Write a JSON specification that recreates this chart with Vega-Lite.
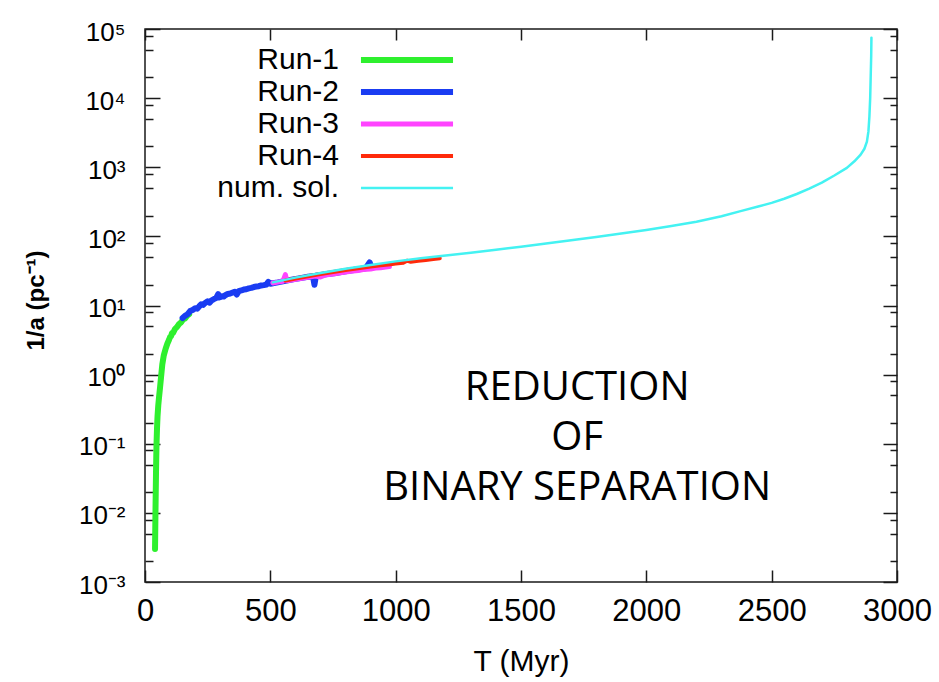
{
  "$schema": "https://vega.github.io/schema/vega-lite/v6.json",
  "width": 752,
  "height": 553,
  "autosize": "none",
  "padding": {"left": 145, "top": 29, "right": 42, "bottom": 100},
  "background": "white",
  "config": {
    "view": {"stroke": "#1a1a1a", "strokeWidth": 1.5},
    "font": "Liberation Sans",
    "axis": {"domain": false, "grid": false, "tickColor": "#1a1a1a", "tickWidth": 1.5, "labelColor": "black", "titleColor": "black", "labelFont": "Liberation Sans", "titleFont": "Liberation Sans", "titleFontWeight": "normal"}
  },
  "datasets": {
    "curves": [
      {"series": "Run-1", "T": 40, "inv_a": 0.003},
      {"series": "Run-1", "T": 41, "inv_a": 0.006},
      {"series": "Run-1", "T": 42, "inv_a": 0.012},
      {"series": "Run-1", "T": 43, "inv_a": 0.022},
      {"series": "Run-1", "T": 44, "inv_a": 0.04},
      {"series": "Run-1", "T": 45, "inv_a": 0.065},
      {"series": "Run-1", "T": 46, "inv_a": 0.1},
      {"series": "Run-1", "T": 48, "inv_a": 0.17},
      {"series": "Run-1", "T": 50, "inv_a": 0.25},
      {"series": "Run-1", "T": 53, "inv_a": 0.36},
      {"series": "Run-1", "T": 56, "inv_a": 0.47},
      {"series": "Run-1", "T": 60, "inv_a": 0.65},
      {"series": "Run-1", "T": 64, "inv_a": 0.92},
      {"series": "Run-1", "T": 69, "inv_a": 1.4},
      {"series": "Run-1", "T": 75, "inv_a": 1.9},
      {"series": "Run-1", "T": 82, "inv_a": 2.35},
      {"series": "Run-1", "T": 89, "inv_a": 2.8},
      {"series": "Run-1", "T": 96, "inv_a": 3.2},
      {"series": "Run-1", "T": 100, "inv_a": 3.5},
      {"series": "Run-1", "T": 104, "inv_a": 3.6},
      {"series": "Run-1", "T": 108, "inv_a": 4.0},
      {"series": "Run-1", "T": 112, "inv_a": 4.0},
      {"series": "Run-1", "T": 120, "inv_a": 4.6},
      {"series": "Run-1", "T": 128, "inv_a": 4.9},
      {"series": "Run-1", "T": 136, "inv_a": 5.4},
      {"series": "Run-1", "T": 144, "inv_a": 5.7},
      {"series": "Run-1", "T": 152, "inv_a": 6.3},
      {"series": "Run-1", "T": 160, "inv_a": 6.5},
      {"series": "Run-1", "T": 168, "inv_a": 7.1},
      {"series": "Run-1", "T": 176, "inv_a": 7.5},
      {"series": "Run-2", "T": 150, "inv_a": 6.6},
      {"series": "Run-2", "T": 160, "inv_a": 7.1},
      {"series": "Run-2", "T": 170, "inv_a": 7.5},
      {"series": "Run-2", "T": 180, "inv_a": 8.3},
      {"series": "Run-2", "T": 190, "inv_a": 8.6},
      {"series": "Run-2", "T": 200, "inv_a": 9.1},
      {"series": "Run-2", "T": 208, "inv_a": 9.0},
      {"series": "Run-2", "T": 216, "inv_a": 9.7},
      {"series": "Run-2", "T": 224, "inv_a": 10.4},
      {"series": "Run-2", "T": 232, "inv_a": 10.2},
      {"series": "Run-2", "T": 240, "inv_a": 10.9},
      {"series": "Run-2", "T": 250, "inv_a": 11.5},
      {"series": "Run-2", "T": 258, "inv_a": 11.0},
      {"series": "Run-2", "T": 266, "inv_a": 11.9},
      {"series": "Run-2", "T": 275, "inv_a": 12.4},
      {"series": "Run-2", "T": 284, "inv_a": 12.8},
      {"series": "Run-2", "T": 292, "inv_a": 14.6},
      {"series": "Run-2", "T": 298, "inv_a": 13.1},
      {"series": "Run-2", "T": 306, "inv_a": 13.6},
      {"series": "Run-2", "T": 314, "inv_a": 13.5},
      {"series": "Run-2", "T": 322, "inv_a": 14.2},
      {"series": "Run-2", "T": 330, "inv_a": 14.7},
      {"series": "Run-2", "T": 340, "inv_a": 14.9},
      {"series": "Run-2", "T": 350, "inv_a": 15.4},
      {"series": "Run-2", "T": 358, "inv_a": 15.8},
      {"series": "Run-2", "T": 366, "inv_a": 14.4},
      {"series": "Run-2", "T": 374, "inv_a": 16.1},
      {"series": "Run-2", "T": 384, "inv_a": 16.5},
      {"series": "Run-2", "T": 394, "inv_a": 17.0},
      {"series": "Run-2", "T": 404, "inv_a": 17.2},
      {"series": "Run-2", "T": 414, "inv_a": 17.7},
      {"series": "Run-2", "T": 424, "inv_a": 18.0},
      {"series": "Run-2", "T": 434, "inv_a": 18.5},
      {"series": "Run-2", "T": 444, "inv_a": 18.8},
      {"series": "Run-2", "T": 454, "inv_a": 19.0},
      {"series": "Run-2", "T": 464, "inv_a": 19.5},
      {"series": "Run-2", "T": 474, "inv_a": 19.7},
      {"series": "Run-2", "T": 484, "inv_a": 20.1},
      {"series": "Run-2", "T": 492, "inv_a": 21.9},
      {"series": "Run-2", "T": 500, "inv_a": 20.6},
      {"series": "Run-2", "T": 510, "inv_a": 21.0},
      {"series": "Run-2", "T": 530, "inv_a": 21.6},
      {"series": "Run-2", "T": 560, "inv_a": 22.7},
      {"series": "Run-2", "T": 590, "inv_a": 23.9},
      {"series": "Run-2", "T": 620, "inv_a": 24.9},
      {"series": "Run-2", "T": 650, "inv_a": 26.0},
      {"series": "Run-2", "T": 670, "inv_a": 26.5},
      {"series": "Run-2", "T": 676, "inv_a": 20.0},
      {"series": "Run-2", "T": 682, "inv_a": 26.9},
      {"series": "Run-2", "T": 720, "inv_a": 28.2},
      {"series": "Run-2", "T": 760, "inv_a": 29.6},
      {"series": "Run-2", "T": 800, "inv_a": 31.3},
      {"series": "Run-2", "T": 840, "inv_a": 32.8},
      {"series": "Run-2", "T": 880, "inv_a": 34.5},
      {"series": "Run-2", "T": 896, "inv_a": 42.0},
      {"series": "Run-2", "T": 904, "inv_a": 35.3},
      {"series": "Run-3", "T": 510, "inv_a": 21.2},
      {"series": "Run-3", "T": 530, "inv_a": 21.8},
      {"series": "Run-3", "T": 550, "inv_a": 22.4},
      {"series": "Run-3", "T": 560, "inv_a": 28.0},
      {"series": "Run-3", "T": 566, "inv_a": 22.8},
      {"series": "Run-3", "T": 590, "inv_a": 23.6},
      {"series": "Run-3", "T": 620, "inv_a": 24.6},
      {"series": "Run-3", "T": 650, "inv_a": 25.5},
      {"series": "Run-3", "T": 680, "inv_a": 26.6},
      {"series": "Run-3", "T": 700, "inv_a": 25.9},
      {"series": "Run-3", "T": 720, "inv_a": 27.7},
      {"series": "Run-3", "T": 740, "inv_a": 28.4},
      {"series": "Run-3", "T": 760, "inv_a": 28.9},
      {"series": "Run-3", "T": 780, "inv_a": 29.8},
      {"series": "Run-3", "T": 800, "inv_a": 30.4},
      {"series": "Run-3", "T": 820, "inv_a": 31.3},
      {"series": "Run-3", "T": 850, "inv_a": 32.0},
      {"series": "Run-3", "T": 870, "inv_a": 33.1},
      {"series": "Run-3", "T": 900, "inv_a": 33.8},
      {"series": "Run-3", "T": 920, "inv_a": 34.8},
      {"series": "Run-3", "T": 940, "inv_a": 35.2},
      {"series": "Run-3", "T": 960, "inv_a": 36.0},
      {"series": "Run-3", "T": 975, "inv_a": 36.6},
      {"series": "Run-4", "T": 560, "inv_a": 23.0},
      {"series": "Run-4", "T": 600, "inv_a": 24.6},
      {"series": "Run-4", "T": 650, "inv_a": 26.5},
      {"series": "Run-4", "T": 700, "inv_a": 28.6},
      {"series": "Run-4", "T": 750, "inv_a": 30.6},
      {"series": "Run-4", "T": 800, "inv_a": 32.6},
      {"series": "Run-4", "T": 850, "inv_a": 34.6},
      {"series": "Run-4", "T": 900, "inv_a": 36.6},
      {"series": "Run-4", "T": 940, "inv_a": 38.2},
      {"series": "Run-4", "T": 980, "inv_a": 39.6},
      {"series": "Run-4", "T": 1000, "inv_a": 40.4},
      {"series": "Run-4", "T": 1030, "inv_a": 41.5},
      {"series": "Run-4", "T": 1045, "inv_a": 44.5},
      {"series": "Run-4", "T": 1060, "inv_a": 43.0},
      {"series": "Run-4", "T": 1090, "inv_a": 44.2},
      {"series": "Run-4", "T": 1120, "inv_a": 45.6},
      {"series": "Run-4", "T": 1150, "inv_a": 47.0},
      {"series": "Run-4", "T": 1176, "inv_a": 48.4},
      {"series": "num. sol.", "T": 510, "inv_a": 21.6},
      {"series": "num. sol.", "T": 600, "inv_a": 25.3},
      {"series": "num. sol.", "T": 700, "inv_a": 29.6},
      {"series": "num. sol.", "T": 800, "inv_a": 34.0},
      {"series": "num. sol.", "T": 900, "inv_a": 38.6},
      {"series": "num. sol.", "T": 1000, "inv_a": 43.5},
      {"series": "num. sol.", "T": 1100, "inv_a": 48.3},
      {"series": "num. sol.", "T": 1200, "inv_a": 53},
      {"series": "num. sol.", "T": 1300, "inv_a": 58},
      {"series": "num. sol.", "T": 1400, "inv_a": 64},
      {"series": "num. sol.", "T": 1500, "inv_a": 71},
      {"series": "num. sol.", "T": 1600, "inv_a": 79},
      {"series": "num. sol.", "T": 1700, "inv_a": 88},
      {"series": "num. sol.", "T": 1800, "inv_a": 98},
      {"series": "num. sol.", "T": 1900, "inv_a": 110},
      {"series": "num. sol.", "T": 2000, "inv_a": 124},
      {"series": "num. sol.", "T": 2100, "inv_a": 141},
      {"series": "num. sol.", "T": 2200, "inv_a": 163},
      {"series": "num. sol.", "T": 2300, "inv_a": 196},
      {"series": "num. sol.", "T": 2376, "inv_a": 232},
      {"series": "num. sol.", "T": 2450, "inv_a": 272},
      {"series": "num. sol.", "T": 2500, "inv_a": 305},
      {"series": "num. sol.", "T": 2550, "inv_a": 350},
      {"series": "num. sol.", "T": 2600, "inv_a": 410},
      {"series": "num. sol.", "T": 2650, "inv_a": 490},
      {"series": "num. sol.", "T": 2700, "inv_a": 600},
      {"series": "num. sol.", "T": 2750, "inv_a": 760},
      {"series": "num. sol.", "T": 2800, "inv_a": 980},
      {"series": "num. sol.", "T": 2830, "inv_a": 1220},
      {"series": "num. sol.", "T": 2855, "inv_a": 1520},
      {"series": "num. sol.", "T": 2870, "inv_a": 1850},
      {"series": "num. sol.", "T": 2880, "inv_a": 2350},
      {"series": "num. sol.", "T": 2886, "inv_a": 3300},
      {"series": "num. sol.", "T": 2890, "inv_a": 5500},
      {"series": "num. sol.", "T": 2893, "inv_a": 10000},
      {"series": "num. sol.", "T": 2895, "inv_a": 20000},
      {"series": "num. sol.", "T": 2897, "inv_a": 40000},
      {"series": "num. sol.", "T": 2898, "inv_a": 75000}
    ]
  },
  "data": {"name": "curves"},
  "layer": [
    {
      "mark": {"type": "line", "strokeCap": "round", "strokeJoin": "round"},
      "encoding": {
        "x": {"field": "T", "type": "quantitative", "scale": {"domain": [0, 3000], "nice": false, "zero": false},
          "axis": {"orient": "bottom", "values": [0, 500, 1000, 1500, 2000, 2500, 3000], "format": "d", "tickSize": -12, "labelPadding": 26, "labelFontSize": 31, "labelBaseline": "top", "labelFlush": false, "labelOverlap": false, "title": "T (Myr)", "titleFontSize": 30, "titleY": 88, "titleBaseline": "alphabetic"}},
        "y": {"field": "inv_a", "type": "quantitative", "scale": {"type": "log", "domain": [0.001, 100000], "nice": false},
          "axis": {"orient": "left", "values": [0.001, 0.01, 0.1, 1, 10, 100, 1000, 10000, 100000], "tickSize": -15, "labelPadding": 35, "labelFontSize": 26, "labelAlign": "right", "labelBaseline": "middle", "labelOffset": 3, "labelOverlap": false, "labelFlush": false, "labelExpr": "'10' + ['⁻³','⁻²','⁻¹','⁰','¹','²','³','⁴','⁵'][round(log(datum.value)/LN10)+3]", "title": "1/a (pc⁻¹)", "titleFontSize": 24, "titleFontWeight": "bold", "titleX": -102, "titleY": 271, "titleBaseline": "alphabetic", "titleAngle": -90}},
        "color": {"field": "series", "type": "nominal",
          "scale": {"domain": ["Run-1", "Run-2", "Run-3", "Run-4", "num. sol."], "range": ["#2ef02e", "#1a3cf2", "#ff44ff", "#ff2a0a", "#44f2f2"]},
          "legend": {"orient": "none", "legendX": 193, "legendY": 16, "title": null, "padding": 0, "symbolType": "M-5,0H5", "symbolSize": 339, "symbolOffset": 54, "labelAlign": "right", "labelOffset": -83, "labelFontSize": 30, "labelFont": "Liberation Sans", "labelColor": "black", "rowPadding": 2, "labelLimit": 300}},
        "strokeWidth": {"field": "series", "type": "nominal",
          "scale": {"type": "ordinal", "domain": ["Run-1", "Run-2", "Run-3", "Run-4", "num. sol."], "range": [6, 6, 5, 4, 2.5]},
          "legend": {"orient": "none", "legendX": 193, "legendY": 16, "title": null, "padding": 0, "symbolType": "M-5,0H5", "symbolSize": 339, "symbolOffset": 54, "labelAlign": "right", "labelOffset": -83, "labelFontSize": 30, "labelFont": "Liberation Sans", "labelColor": "black", "rowPadding": 2, "labelLimit": 300}}
      }
    },
    {
      "mark": {"type": "point", "opacity": 0},
      "encoding": {
        "x": {"field": "T", "type": "quantitative", "axis": {"orient": "top", "values": [0, 500, 1000, 1500, 2000, 2500, 3000], "tickSize": -11, "labels": false, "title": null}},
        "y": {"field": "inv_a", "type": "quantitative", "axis": {"orient": "left", "values": [0.002, 0.005, 0.008, 0.02, 0.05, 0.08, 0.2, 0.5, 0.8, 2, 5, 8, 20, 50, 80, 200, 500, 800, 2000, 5000, 8000, 20000, 50000, 80000], "tickSize": -8, "labels": false, "title": null}}
      }
    },
    {
      "mark": {"type": "point", "opacity": 0},
      "encoding": {
        "x": {"field": "T", "type": "quantitative", "axis": null},
        "y": {"field": "inv_a", "type": "quantitative", "axis": {"orient": "right", "values": [0.001, 0.01, 0.1, 1, 10, 100, 1000, 10000, 100000], "tickSize": -14, "labels": false, "title": null}}
      }
    },
    {
      "mark": {"type": "point", "opacity": 0},
      "encoding": {
        "x": {"field": "T", "type": "quantitative", "axis": null},
        "y": {"field": "inv_a", "type": "quantitative", "axis": {"orient": "right", "values": [0.002, 0.005, 0.008, 0.02, 0.05, 0.08, 0.2, 0.5, 0.8, 2, 5, 8, 20, 50, 80, 200, 500, 800, 2000, 5000, 8000, 20000, 50000, 80000], "tickSize": -7, "labels": false, "title": null}}
      }
    },
    {
      "data": {"values": [{}]},
      "mark": {"type": "text", "font": "Open Sans", "fontSize": 40, "align": "center", "baseline": "middle", "lineHeight": 50, "color": "black"},
      "encoding": {
        "x": {"datum": 1724, "type": "quantitative", "axis": null},
        "y": {"datum": 0.638, "type": "quantitative", "axis": null},
        "text": {"value": ["REDUCTION", "OF", "BINARY SEPARATION"]}
      }
    }
  ],
  "resolve": {"axis": {"x": "independent", "y": "independent"}}
}
